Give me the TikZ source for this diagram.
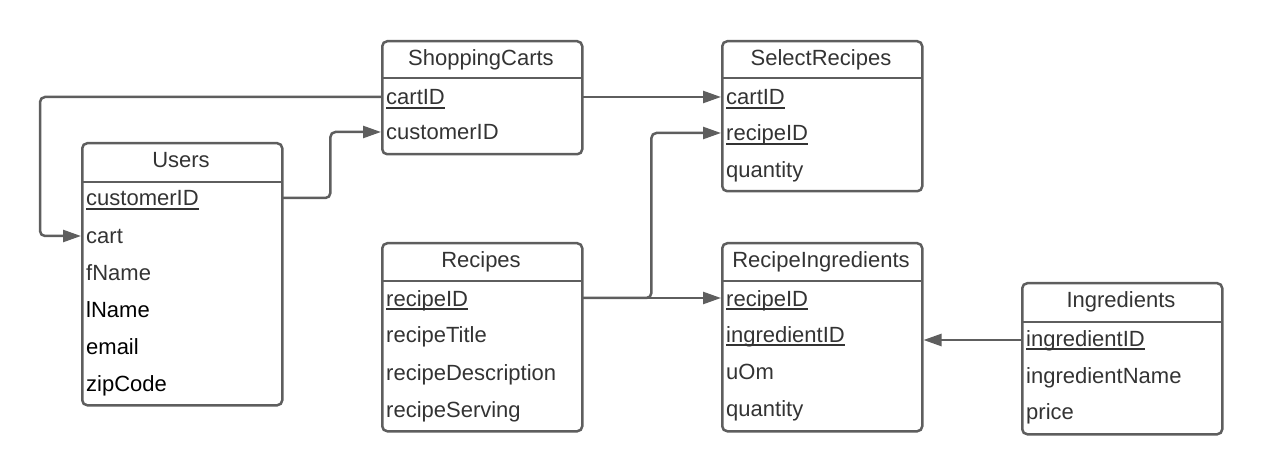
\documentclass[tikz,border=0pt]{standalone}
\usepackage{fontspec}
\setmainfont{Liberation Sans}
\usetikzlibrary{arrows.meta}
\definecolor{edgec}{HTML}{5E5E5E}
\definecolor{txt}{HTML}{333333}
\newcommand\uln[1]{\setbox0\hbox{#1}\rlap{\rule[-4pt]{\wd0}{1.8pt}}\box0}
\begin{document}
\begin{tikzpicture}[x=1pt,y=-1pt,
 tbl/.style={draw=edgec,line width=2.5pt,rounded corners=5pt,anchor=north west,inner sep=0pt,minimum width=200pt},
 hline/.style={draw=edgec,line width=2.5pt},
 hdr/.style={anchor=center,font=\fontsize{22}{26}\selectfont,text=txt,inner sep=0pt,text height=19pt,text depth=3pt},
 row/.style={anchor=west,font=\fontsize{22}{26}\selectfont,text=txt,text height=19pt,text depth=3pt,text width=190pt,align=left,inner xsep=5pt,inner ysep=0pt},
 blk/.style={text=black},
 conn/.style={draw=edgec,line width=2.5pt,rounded corners=5pt,-{Triangle[length=18pt,width=12pt]}}]
\useasboundingbox (0,0) rectangle (1262,473);
% ShoppingCarts
\node[tbl,minimum height=113pt] (sc) at (381,40) {};
\draw[hline] (381,78) -- (581,78);
\node[hdr] (sc-h) at (481,58) {ShoppingCarts};
\node[row] (sc-cartID) at (381,97) {\uln{cartID}};
\node[row] (sc-customerID) at (381,132) {customerID};
% SelectRecipes
\node[tbl,minimum height=150pt] (sr) at (721,40) {};
\draw[hline] (721,78) -- (921,78);
\node[hdr] (sr-h) at (821,58) {SelectRecipes};
\node[row] (sr-cartID) at (721,97) {\uln{cartID}};
\node[row] (sr-recipeID) at (721,133) {\uln{recipeID}};
\node[row] (sr-quantity) at (721,170) {quantity};
% Users
\node[tbl,minimum height=262pt] (us) at (81,142) {};
\draw[hline] (81,182) -- (282,182);
\node[hdr] (us-h) at (181,160) {Users};
\node[row] (us-customerID) at (81,198) {\uln{customerID}};
\node[row] (us-cart) at (81,236) {cart};
\node[row] (us-fName) at (81,272) {fName};
\node[row,blk] (us-lName) at (81,309) {lName};
\node[row,blk] (us-email) at (81,346) {email};
\node[row,blk] (us-zipCode) at (81,383) {zipCode};
% Recipes
\node[tbl,minimum height=188pt] (re) at (381,242) {};
\draw[hline] (381,281) -- (581,281);
\node[hdr] (re-h) at (481,260) {Recipes};
\node[row] (re-recipeID) at (381,298) {\uln{recipeID}};
\node[row] (re-recipeTitle) at (381,334) {recipeTitle};
\node[row] (re-recipeDescription) at (381,372) {recipeDescription};
\node[row] (re-recipeServing) at (381,409) {recipeServing};
% RecipeIngredients
\node[tbl,minimum height=188pt] (ri) at (721,242) {};
\draw[hline] (721,281) -- (921,281);
\node[hdr] (ri-h) at (821,260) {RecipeIngredients};
\node[row] (ri-recipeID) at (721,298) {\uln{recipeID}};
\node[row] (ri-ingredientID) at (721,334) {\uln{ingredientID}};
\node[row] (ri-uOm) at (721,371) {uOm};
\node[row] (ri-quantity) at (721,408) {quantity};
% Ingredients
\node[tbl,minimum height=151pt] (in) at (1021,282) {};
\draw[hline] (1021,322) -- (1221,322);
\node[hdr] (in-h) at (1121,300) {Ingredients};
\node[row] (in-ingredientID) at (1021,338) {\uln{ingredientID}};
\node[row] (in-ingredientName) at (1021,375) {ingredientName};
\node[row] (in-price) at (1021,411) {price};
% connectors
\draw[conn] (sc-cartID.west) -- ++(-341,0) |- (us-cart.west);
\draw[conn] (us-customerID.east) -- ++(49,0) |- (sc-customerID.west);
\draw[conn] (sc-cartID.east) -- (sr-cartID.west);
\draw[conn] (re-recipeID.east) -- (ri-recipeID.west);
\draw[conn] (re-recipeID.east) -- ++(70,0) |- (sr-recipeID.west);
\coordinate (inx) at ([yshift=-2pt]in-ingredientID.west);
\draw[conn] (inx) -- (ri.east |- inx);
\end{tikzpicture}
\end{document}
